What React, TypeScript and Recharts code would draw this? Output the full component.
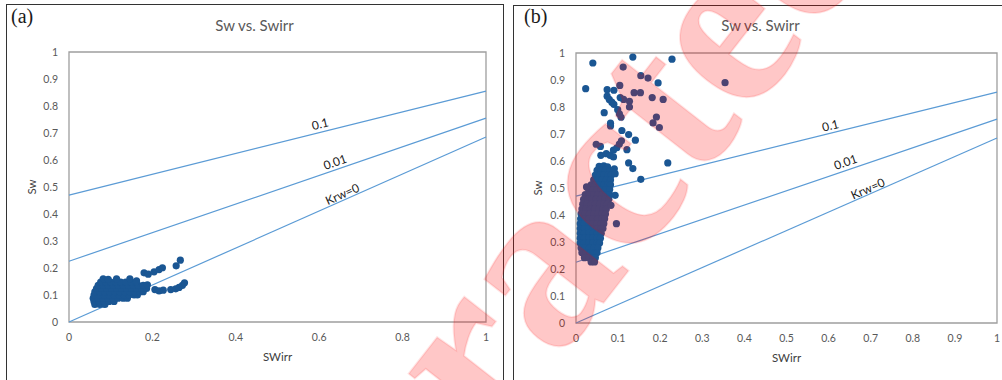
import React from "react";
import { ScatterChart, Scatter, XAxis, YAxis, ReferenceArea } from "recharts";

// axis ticks
const SW_TICKS = [0, 0.1, 0.2, 0.3, 0.4, 0.5, 0.6, 0.7, 0.8, 0.9, 1];
const SWIRR_TICKS_A = [0, 0.2, 0.4, 0.6, 0.8, 1];
const SWIRR_TICKS_B = [0, 0.1, 0.2, 0.3, 0.4, 0.5, 0.6, 0.7, 0.8, 0.9, 1];

// constant Krw lines (Swirr, Sw) end points
const KRW_01: [number, number][] = [[0, 0.47], [1, 0.855]];
const KRW_001: [number, number][] = [[0, 0.225], [1, 0.755]];
const KRW_0: [number, number][] = [[0, 0], [1, 0.685]];

// line captions: [Swirr, Sw, text, slope of the line]
const CAPTIONS_A: [number, number, string, number][] = [
  [0.602, 0.734, "0.1", 0.385],
  [0.638, 0.593, "0.01", 0.53],
  [0.655, 0.474, "Krw=0", 0.685],
];
const CAPTIONS_B: [number, number, string, number][] = [
  [0.604, 0.732, "0.1", 0.385],
  [0.64, 0.597, "0.01", 0.53],
  [0.693, 0.498, "Krw=0", 0.685],
];

// well (a): samples, Swirr vs Sw
const WELL_A: [number, number][] = [
  [0.062, 0.065], [0.074, 0.065], [0.086, 0.065],
  [0.06, 0.076], [0.072, 0.076], [0.084, 0.076], [0.096, 0.076], [0.108, 0.076],
  [0.058, 0.088], [0.07, 0.088], [0.082, 0.088], [0.094, 0.088], [0.106, 0.088], [0.118, 0.088], [0.13, 0.088], [0.14, 0.088],
  [0.06, 0.1], [0.072, 0.1], [0.084, 0.1], [0.096, 0.1], [0.108, 0.1], [0.12, 0.1], [0.132, 0.1], [0.144, 0.1], [0.156, 0.1], [0.164, 0.1],
  [0.062, 0.112], [0.074, 0.112], [0.086, 0.112], [0.098, 0.112], [0.11, 0.112], [0.122, 0.112], [0.134, 0.112], [0.146, 0.112], [0.158, 0.112], [0.17, 0.112], [0.178, 0.112],
  [0.066, 0.124], [0.078, 0.124], [0.09, 0.124], [0.102, 0.124], [0.114, 0.124], [0.126, 0.124], [0.138, 0.124], [0.15, 0.124], [0.162, 0.124], [0.174, 0.124], [0.186, 0.124],
  [0.07, 0.136], [0.082, 0.136], [0.094, 0.136], [0.106, 0.136], [0.118, 0.136], [0.13, 0.136], [0.142, 0.136], [0.154, 0.136], [0.166, 0.136], [0.178, 0.136], [0.188, 0.138],
  [0.076, 0.148], [0.088, 0.148], [0.1, 0.148], [0.112, 0.148], [0.124, 0.148], [0.136, 0.148], [0.148, 0.148], [0.16, 0.148],
  [0.082, 0.16], [0.094, 0.158], [0.114, 0.16], [0.146, 0.16], [0.162, 0.152],
  [0.18, 0.182], [0.19, 0.177], [0.204, 0.186], [0.216, 0.194], [0.224, 0.201],
  [0.257, 0.208], [0.267, 0.229],
  [0.206, 0.12], [0.216, 0.115], [0.226, 0.118],
  [0.244, 0.12], [0.256, 0.123], [0.264, 0.128], [0.272, 0.136], [0.277, 0.145],
];

// well (b): dense body of samples
const WELL_B: [number, number][] = [
  [0.055, 0.58], [0.066, 0.582], [0.075, 0.578],
  [0.05, 0.565], [0.06, 0.565], [0.07, 0.565], [0.08, 0.562],
  [0.046, 0.548], [0.056, 0.548], [0.066, 0.548], [0.076, 0.548], [0.084, 0.548],
  [0.042, 0.53], [0.052, 0.53], [0.062, 0.53], [0.072, 0.53], [0.082, 0.53],
  [0.036, 0.512], [0.046, 0.512], [0.056, 0.512], [0.066, 0.512], [0.076, 0.512], [0.082, 0.512],
  [0.03, 0.494], [0.04, 0.494], [0.05, 0.494], [0.06, 0.494], [0.07, 0.494], [0.08, 0.494],
  [0.022, 0.476], [0.032, 0.476], [0.042, 0.476], [0.052, 0.476], [0.062, 0.476], [0.072, 0.476], [0.08, 0.476],
  [0.018, 0.458], [0.028, 0.458], [0.038, 0.458], [0.048, 0.458], [0.058, 0.458], [0.068, 0.458], [0.078, 0.458],
  [0.016, 0.44], [0.026, 0.44], [0.036, 0.44], [0.046, 0.44], [0.056, 0.44], [0.066, 0.44], [0.074, 0.44],
  [0.014, 0.422], [0.024, 0.422], [0.034, 0.422], [0.044, 0.422], [0.054, 0.422], [0.064, 0.422], [0.072, 0.422],
  [0.012, 0.404], [0.022, 0.404], [0.032, 0.404], [0.042, 0.404], [0.052, 0.404], [0.062, 0.404], [0.07, 0.404],
  [0.011, 0.386], [0.021, 0.386], [0.031, 0.386], [0.041, 0.386], [0.051, 0.386], [0.061, 0.386], [0.068, 0.386],
  [0.01, 0.368], [0.02, 0.368], [0.03, 0.368], [0.04, 0.368], [0.05, 0.368], [0.06, 0.368], [0.066, 0.368],
  [0.01, 0.35], [0.02, 0.35], [0.03, 0.35], [0.04, 0.35], [0.05, 0.35], [0.06, 0.35], [0.064, 0.35],
  [0.01, 0.332], [0.02, 0.332], [0.03, 0.332], [0.04, 0.332], [0.05, 0.332], [0.06, 0.332],
  [0.01, 0.314], [0.02, 0.314], [0.03, 0.314], [0.04, 0.314], [0.05, 0.314], [0.058, 0.314],
  [0.01, 0.296], [0.02, 0.296], [0.03, 0.296], [0.04, 0.296], [0.05, 0.296], [0.056, 0.296],
  [0.012, 0.278], [0.022, 0.278], [0.032, 0.278], [0.042, 0.278], [0.052, 0.278],
  [0.014, 0.26], [0.024, 0.26], [0.034, 0.26], [0.044, 0.26], [0.05, 0.26],
  [0.02, 0.242], [0.03, 0.242], [0.04, 0.242], [0.046, 0.242],
  [0.036, 0.226], [0.044, 0.226],
];

// well (b): scattered high-Sw samples
const WELL_B_SPARSE: [number, number][] = [
  [0.04, 0.963], [0.023, 0.868], [0.135, 0.985], [0.228, 0.977], [0.112, 0.948],
  [0.154, 0.916], [0.171, 0.907], [0.195, 0.889], [0.354, 0.89],
  [0.074, 0.864], [0.09, 0.862], [0.104, 0.88], [0.138, 0.853], [0.153, 0.853],
  [0.181, 0.835], [0.207, 0.828], [0.105, 0.835], [0.113, 0.828], [0.127, 0.821], [0.127, 0.8],
  [0.074, 0.84], [0.079, 0.828], [0.085, 0.818], [0.09, 0.81],
  [0.099, 0.79], [0.103, 0.775], [0.107, 0.762],
  [0.067, 0.779], [0.191, 0.763], [0.183, 0.741], [0.198, 0.724],
  [0.082, 0.74], [0.082, 0.73], [0.109, 0.713], [0.125, 0.698], [0.141, 0.677],
  [0.121, 0.642], [0.125, 0.593], [0.135, 0.572], [0.154, 0.532], [0.218, 0.593],
  [0.048, 0.662], [0.058, 0.654], [0.059, 0.621], [0.072, 0.627], [0.081, 0.621],
  [0.089, 0.615], [0.089, 0.64], [0.097, 0.649], [0.103, 0.663], [0.108, 0.675],
  [0.091, 0.571], [0.093, 0.553], [0.093, 0.473], [0.083, 0.436], [0.096, 0.368], [0.025, 0.504],
];

const DOT = "#1a5693";
const LINE = "#5b9bd5";
const TEXT = "#595959";
const FONT = "Lato, 'Open Sans', sans-serif";
const PLOT_W = 419;
const PLOT_H = 270;

const toPts = (arr: [number, number][]) => arr.map(([x, y]) => ({ x, y }));

const Dot = (p: any) => <circle cx={p.cx} cy={p.cy} r={3.6} fill={DOT} />;
const NoShape = () => <g />;

function Caption(p: any) {
  const { text, slope } = p.payload;
  const angle = (-Math.atan((slope * PLOT_H) / PLOT_W) * 180) / Math.PI;
  return (
    <text
      x={p.cx}
      y={p.cy}
      textAnchor="middle"
      dominantBaseline="central"
      transform={`rotate(${angle} ${p.cx} ${p.cy})`}
      fontFamily={FONT}
      fontSize={12}
      fill="#1a1a1a"
    >
      {text}
    </text>
  );
}

function Panel({
  tag,
  left,
  width,
  margin,
  xTicks,
  samples,
  sparse,
  captions,
  ylabelOffset,
}: {
  tag: string;
  left: number;
  width: number;
  margin: { top: number; right: number; bottom: number; left: number };
  xTicks: number[];
  samples: [number, number][];
  sparse: [number, number][];
  captions: [number, number, string, number][];
  ylabelOffset: number;
}) {
  const capData = captions.map(([x, y, text, slope]) => ({ x, y, text, slope }));
  return (
    <div style={{ position: "absolute", left, top: 0, width, height: 380 }}>
      <ScatterChart width={width} height={380} margin={margin}>
        <XAxis
          type="number"
          dataKey="x"
          domain={[0, 1]}
          ticks={xTicks}
          interval={0}
          axisLine={false}
          tickLine={false}
          tickMargin={6}
          height={44}
          tick={{ fill: TEXT, fontSize: 10.5, fontFamily: FONT }}
          label={{ value: "SWirr", position: "insideBottom", offset: 5, fill: "#404040", fontSize: 11.5, fontFamily: FONT }}
        />
        <YAxis
          type="number"
          dataKey="y"
          domain={[0, 1]}
          ticks={SW_TICKS}
          interval={0}
          axisLine={false}
          tickLine={false}
          tickMargin={5}
          width={50}
          tick={{ fill: TEXT, fontSize: 10.5, fontFamily: FONT }}
          label={{
            value: "Sw",
            angle: -90,
            position: "insideLeft",
            offset: ylabelOffset,
            fill: "#404040",
            fontSize: 11.5,
            fontFamily: FONT,
            style: { textAnchor: "middle" },
          }}
        />
        <ReferenceArea x1={0} x2={1} y1={0} y2={1} fill="none" stroke="#9e9e9e" strokeWidth={1.3} />
        <Scatter data={toPts(KRW_01)} line={{ stroke: LINE, strokeWidth: 1.2 }} shape={NoShape} isAnimationActive={false} />
        <Scatter data={toPts(KRW_001)} line={{ stroke: LINE, strokeWidth: 1.2 }} shape={NoShape} isAnimationActive={false} />
        <Scatter data={toPts(KRW_0)} line={{ stroke: LINE, strokeWidth: 1.2 }} shape={NoShape} isAnimationActive={false} />
        <Scatter data={toPts(samples)} shape={Dot} isAnimationActive={false} />
        <Scatter data={toPts(sparse)} shape={Dot} isAnimationActive={false} />
        <Scatter data={capData} shape={Caption} isAnimationActive={false} />
      </ScatterChart>
      <div
        style={{
          position: "absolute",
          left: 0,
          width: width + 6,
          top: 16,
          textAlign: "center",
          fontFamily: FONT,
          fontSize: 15,
          color: TEXT,
        }}
      >
        Sw vs. Swirr
      </div>
      <div
        style={{
          position: "absolute",
          left: 11,
          top: 5,
          fontFamily: "'Liberation Serif', 'Times New Roman', serif",
          fontSize: 20,
          color: "#1a1a1a",
        }}
      >
        ({tag})
      </div>
    </div>
  );
}

export default function App() {
  return (
    <div style={{ position: "absolute", left: 0, top: 0, width: 1002, height: 380, background: "#fff", overflow: "hidden" }}>
      <div style={{ position: "absolute", left: 6, top: 4, width: 496, height: 400, border: "1px solid #333", borderBottom: "none" }} />
      <div style={{ position: "absolute", left: 513, top: 5, width: 500, height: 400, border: "1px solid #333", borderBottom: "none" }} />
      <Panel
        tag="a"
        left={0}
        width={503}
        margin={{ top: 52, right: 17, bottom: 14, left: 19 }}
        xTicks={SWIRR_TICKS_A}
        samples={WELL_A}
        sparse={[]}
        captions={CAPTIONS_A}
        ylabelOffset={13}
      />
      <Panel
        tag="b"
        left={513}
        width={489}
        margin={{ top: 53, right: 5, bottom: 13, left: 13 }}
        xTicks={SWIRR_TICKS_B}
        samples={WELL_B}
        sparse={WELL_B_SPARSE}
        captions={CAPTIONS_B}
        ylabelOffset={12}
      />
      <svg width={1002} height={380} style={{ position: "absolute", left: 0, top: 0, pointerEvents: "none" }}>
        <text
          x={270}
          y={730}
          transform="rotate(-52 270 730)"
          fontFamily="'Liberation Serif', 'Times New Roman', serif"
          fontWeight="bold"
          fontSize={240}
          fill="#ff0000"
          fillOpacity={0.22}
          stroke="#ff0000"
          strokeOpacity={0.1}
          strokeWidth={2}
        >
          Retracted
        </text>
      </svg>
    </div>
  );
}
